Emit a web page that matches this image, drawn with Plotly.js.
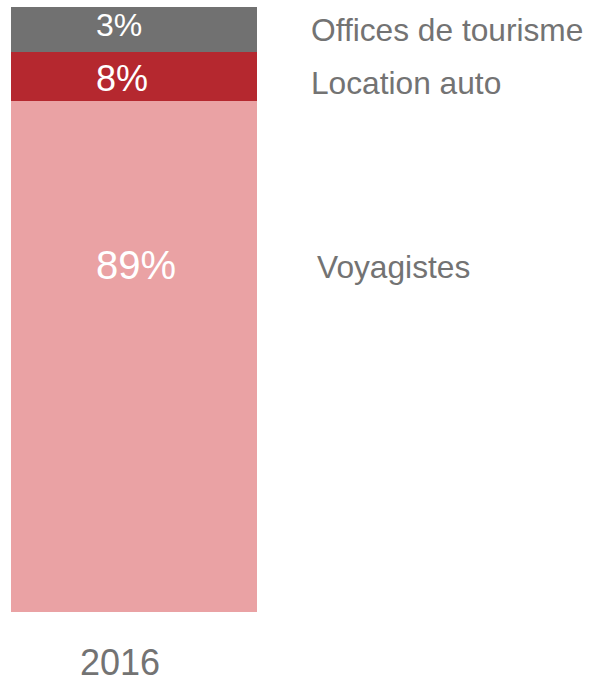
<!DOCTYPE html>
<html>
<head>
<meta charset="utf-8">
<script src="https://cdn.plot.ly/plotly-3.0.1.min.js"></script>
<style>html,body{margin:0;padding:0;background:#fff;}#chart{width:592px;height:682px;}</style>
</head>
<body>
<div id="chart"></div>
<script>
// Data
const years = ["2016"];
const segments = ["Voyagistes", "Location auto", "Offices de tourisme"];
const shareLabels = ["89%", "8%", "3%"];          // printed values
const segmentHeights = [84.5, 8.1, 7.4];         // bar heights as drawn in the picture
const colors = ["#eaa2a4", "#b5282f", "#717171"];

const traces = segments.map((name, i) => ({
  type: "bar",
  name: name,
  x: years,
  y: [segmentHeights[i]],
  marker: {color: colors[i], line: {width: 0}},
  hoverinfo: "none"
}));

const font = "Liberation Sans, Arial, Helvetica, sans-serif";
const grey = "#737373";

// label placements (layout)
const pctY = [0.573, 0.881, 0.970];
const pctSize = [40, 36, 32];
const nameY = [0.570, 0.874, 0.962];
const nameX = [1.2358, 1.2114, 1.2114];

const annotations = [];
segments.forEach((name, i) => {
  annotations.push({
    xref: "paper", yref: "paper", x: 0.3374, y: pctY[i],
    xanchor: "left", yanchor: "middle", showarrow: false,
    text: shareLabels[i], font: {family: font, size: pctSize[i], color: "#ffffff"}
  });
  annotations.push({
    xref: "paper", yref: "paper", x: nameX[i], y: nameY[i],
    xanchor: "left", yanchor: "middle", showarrow: false,
    text: name, font: {family: font, size: 31.7, color: grey}
  });
});

const layout = {
  width: 592, height: 682,
  margin: {l: 11, r: 335, t: 7, b: 70, pad: 0},
  paper_bgcolor: "#ffffff", plot_bgcolor: "#ffffff",
  barmode: "stack", bargap: 0,
  showlegend: false,
  xaxis: {
    type: "category", range: [-0.5, 0.5], showgrid: false, zeroline: false,
    showline: false, ticks: "", fixedrange: true,
    tickfont: {family: font, size: 36, color: grey},
    ticklabelshift: -14, ticklabelstandoff: 26
  },
  yaxis: {range: [0, 100], visible: false, fixedrange: true},
  annotations: annotations
};

Plotly.newPlot("chart", traces, layout, {staticPlot: true, displayModeBar: false});
</script>
</body>
</html>
